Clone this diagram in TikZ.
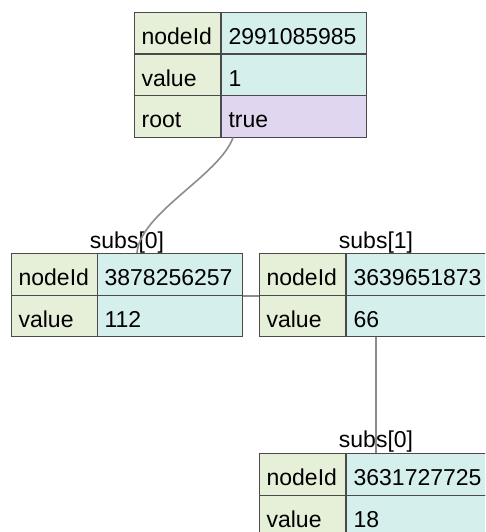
\documentclass[tikz,border=0pt]{standalone}
\usepackage{fontspec}
\setmainfont{Liberation Sans}
\usetikzlibrary{calc}
\definecolor{keyfill}{HTML}{E6EFD8}
\definecolor{valfill}{HTML}{D5EFEC}
\definecolor{rootfill}{HTML}{E1D6EF}
\definecolor{bordercol}{HTML}{4A4A4A}
\definecolor{linkcol}{HTML}{8C8C8C}
\tikzset{
  cell/.style={draw=bordercol, line width=1.2pt, rectangle, anchor=north west,
    minimum height=41.5pt, inner xsep=7pt, inner ysep=0pt, align=left,
    text height=23pt, text depth=0pt,
    font=\fontsize{23}{27}\selectfont},
  keycell/.style={cell, fill=keyfill, text width=72pt},
  valcell/.style={cell, fill=valfill, text width=131pt},
  rootcell/.style={cell, fill=rootfill, text width=131pt},
  tlabel/.style={anchor=base, inner sep=0pt, font=\fontsize{23}{27}\selectfont},
  link/.style={draw=linkcol, line width=1.6pt}
}
\begin{document}
\begin{tikzpicture}[x=1pt, y=-1pt]
\useasboundingbox (0,0) rectangle (485,532);
\clip (0,0) rectangle (485,532);
% root table
\node[keycell] (rk1) at (134,12) {nodeId};
\node[valcell] (rv1) at (221,12) {2991085985};
\node[keycell] (rk2) at (134,53.5) {value};
\node[valcell] (rv2) at (221,53.5) {1};
\node[keycell] (rk3) at (134,95) {root};
\node[rootcell] (rv3) at (221,95) {true};
% subs[0]
\node[tlabel] (l1) at (127,248) {subs[0]};
\node[keycell] (ak1) at (11,253) {nodeId};
\node[valcell] (av1) at (97,253) {3878256257};
\node[keycell] (ak2) at (11,294.5) {value};
\node[valcell] (av2) at (97,294.5) {112};
% subs[1]
\node[tlabel] (l2) at (376,248) {subs[1]};
\node[keycell] (bk1) at (259,253) {nodeId};
\node[valcell] (bv1) at (346,253) {3639651873};
\node[keycell] (bk2) at (259,294.5) {value};
\node[valcell] (bv2) at (346,294.5) {66};
% subs[1].subs[0]
\node[tlabel] (l3) at (376,447) {subs[0]};
\node[keycell] (ck1) at (259,453) {nodeId};
\node[valcell] (cv1) at (346,453) {3631727725};
\node[keycell] (ck2) at (259,494.5) {value};
\node[valcell] (cv2) at (346,494.5) {18};
% connectors
\draw[link] ([xshift=12pt]rv3.south west) .. controls +(-14,38) and +(3,-40) .. ([xshift=40pt]av1.north west);
\draw[link] (av1.south east) -- (bk1.south west);
\draw[link] ([xshift=30pt]bv2.south west) -- ([xshift=30pt]cv1.north west);
\end{tikzpicture}
\end{document}
